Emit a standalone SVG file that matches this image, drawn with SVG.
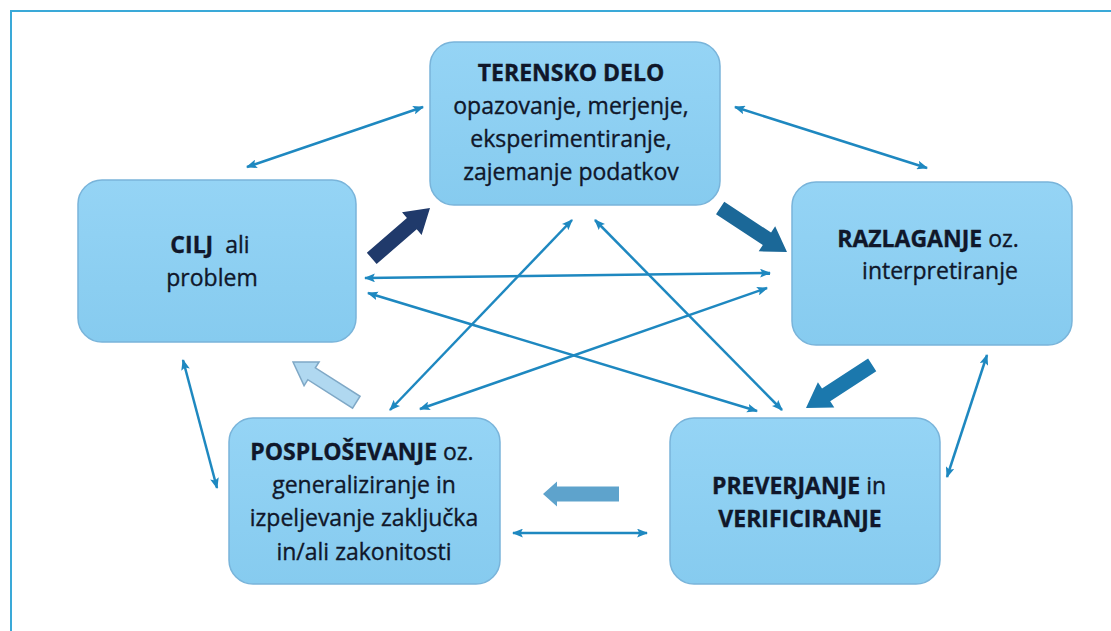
<svg xmlns="http://www.w3.org/2000/svg" width="1111" height="631" viewBox="0 0 1111 631">
<style>
.box{fill:url(#g);stroke:#79b4da;stroke-width:1.5}
.t{font-family:"Open Sans","Liberation Sans",sans-serif;font-size:23px;fill:#10172a;stroke:#10172a;stroke-width:0.35;text-anchor:middle}
.b{font-weight:bold}
.c{fill:none;stroke:#1e88c0;stroke-width:2.5;marker-start:url(#ah);marker-end:url(#ah)}
</style>
<defs>
<linearGradient id="g" x1="0" y1="0" x2="0" y2="1">
<stop offset="0" stop-color="#95d4f5"/>
<stop offset="1" stop-color="#86cbef"/>
</linearGradient>
<marker id="ah" viewBox="0 0 10 8" refX="9" refY="4" markerWidth="11" markerHeight="9" orient="auto-start-reverse" markerUnits="userSpaceOnUse">
<path d="M0,0 L10,4 L0,8 L2,4 z" fill="#1e88c0"/>
</marker>
</defs>
<rect width="1111" height="631" fill="#ffffff"/>
<path d="M11,631 V11 H1111" fill="none" stroke="#3aa9d8" stroke-width="2"/>

<g id="connectors">
<line class="c" x1="247" y1="167" x2="423" y2="107"/>
<line class="c" x1="735" y1="107" x2="927" y2="168"/>
<line class="c" x1="365" y1="278" x2="770" y2="273"/>
<line class="c" x1="368" y1="293" x2="757" y2="411"/>
<line class="c" x1="767" y1="288" x2="420" y2="409"/>
<line class="c" x1="572" y1="220" x2="390" y2="410"/>
<line class="c" x1="595" y1="220" x2="782" y2="410"/>
<line class="c" x1="183" y1="360" x2="217" y2="488"/>
<line class="c" x1="987" y1="355" x2="947" y2="477"/>
<line class="c" x1="513" y1="533" x2="647" y2="533"/>
<g id="block-arrows">
<polygon transform="translate(430,208) rotate(-40.8)" points="0,0 -24,-15 -24,-7.5 -77,-7.5 -77,7.5 -24,7.5 -24,15" fill="#203a6b"/>
<polygon transform="translate(787,252) rotate(33.3)" points="0,0 -24,-15 -24,-7.5 -80,-7.5 -80,7.5 -24,7.5 -24,15" fill="#1b6898"/>
<polygon transform="translate(806,408) rotate(146.9)" points="0,0 -24,-15 -24,-7.5 -79,-7.5 -79,7.5 -24,7.5 -24,15" fill="#1b78ad"/>
<polygon transform="translate(293,362) rotate(212.4)" points="0,0 -22,-14 -22,-7 -75,-7 -75,7 -22,7 -22,14" fill="#b0d8f0" stroke="#7fa8c6" stroke-width="1.5"/>
<polygon transform="translate(543,494) rotate(180)" points="0,0 -14,-12.5 -14,-7.5 -76,-7.5 -76,7.5 -14,7.5 -14,12.5" fill="#5ea3cc"/>
</g>
</g>

<g id="terensko">
<rect class="box" x="430" y="42" width="290" height="163" rx="24"/>
<text class="t" x="571" y="81"><tspan class="b">TERENSKO DELO</tspan></text>
<text class="t" x="571" y="114">opazovanje, merjenje,</text>
<text class="t" x="571" y="147">eksperimentiranje,</text>
<text class="t" x="571" y="180">zajemanje podatkov</text>
</g>

<g id="cilj">
<rect class="box" x="78" y="180" width="278" height="162" rx="24"/>
<text class="t" x="210" y="253"><tspan class="b">CILJ</tspan><tspan dx="6"> ali</tspan></text>
<text class="t" x="212" y="286">problem</text>
</g>

<g id="razlaganje">
<rect class="box" x="792" y="182" width="280" height="163" rx="24"/>
<text class="t" x="928" y="247"><tspan class="b">RAZLAGANJE</tspan> oz.</text>
<text class="t" x="940" y="279">interpretiranje</text>
</g>

<g id="posplosevanje">
<rect class="box" x="229" y="418" width="271" height="166" rx="24"/>
<text class="t" x="362" y="460"><tspan class="b">POSPLOŠEVANJE</tspan> oz.</text>
<text class="t" x="364" y="493">generaliziranje in</text>
<text class="t" x="364" y="526">izpeljevanje zaključka</text>
<text class="t" x="364" y="560">in/ali zakonitosti</text>
</g>

<g id="preverjanje">
<rect class="box" x="670" y="418" width="270" height="166" rx="24"/>
<text class="t" x="799" y="494"><tspan class="b">PREVERJANJE</tspan> in</text>
<text class="t" x="800" y="527"><tspan class="b">VERIFICIRANJE</tspan></text>
</g>
</svg>
